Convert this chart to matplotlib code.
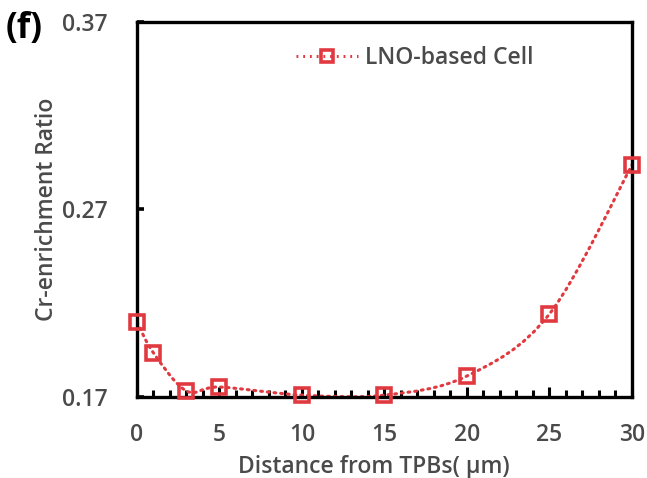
import numpy as np
import matplotlib
matplotlib.use('Agg')
import matplotlib.pyplot as plt
from matplotlib.path import Path
from matplotlib.patches import PathPatch
from matplotlib.lines import Line2D

distance = [0, 1, 3, 5, 10, 15, 20, 25, 30]
cr_ratio = [0.210, 0.1935, 0.1732, 0.1753, 0.171, 0.171, 0.1812, 0.2143, 0.2937]
yticks = [0.17, 0.27, 0.37]
xticks = [0, 5, 10, 15, 20, 25, 30]

RED = '#e03a40'
GREY = '#4a4a4a'
FS = 16.5
plt.rcParams['font.family'] = ['Open Sans', 'DejaVu Sans']
plt.rcParams['font.weight'] = 'semibold'
plt.rcParams['axes.labelweight'] = 'semibold'


def smooth_path(x, y):
    """Catmull-Rom style smoothed curve as cubic Bezier segments."""
    pts = np.column_stack([x, y]).astype(float)
    verts = [pts[0]]
    codes = [Path.MOVETO]
    n = len(pts)
    for i in range(n - 1):
        p0 = pts[max(i - 1, 0)]
        p1 = pts[i]
        p2 = pts[i + 1]
        p3 = pts[min(i + 2, n - 1)]
        c1 = p1 + (p2 - p0) / 6.0
        c2 = p2 - (p3 - p1) / 6.0
        verts += [c1, c2, p2]
        codes += [Path.CURVE4] * 3
    return Path(verts, codes)


fig = plt.figure(figsize=(6.47, 4.78), dpi=100)
ax = fig.add_axes([0.2117, 0.1695, 0.7651, 0.7845])

curve = PathPatch(smooth_path(distance, cr_ratio), fill=False, edgecolor=RED,
                  linewidth=2.2, linestyle=(0, (0.6, 1.6)), capstyle='round',
                  zorder=2)
ax.add_patch(curve)
ax.plot(distance, cr_ratio, linestyle='none', marker='s', markersize=10,
        markerfacecolor='none', markeredgecolor=RED, markeredgewidth=2.6,
        zorder=3, clip_on=False)

ax.set_xlim(0, 30)
ax.set_ylim(0.17, 0.37)
ax.set_xticks(xticks)
ax.set_xticks(np.arange(0, 31, 1), minor=True)
ax.set_yticks(yticks)
ax.set_yticklabels(['%.2f' % v for v in yticks])

for s in ax.spines.values():
    s.set_linewidth(2.4)
ax.tick_params(axis='x', which='major', direction='in', length=7, width=2.2,
               labelsize=FS, labelcolor=GREY, pad=19)
ax.tick_params(axis='x', which='minor', direction='in', length=5, width=2.2)
ax.tick_params(axis='y', direction='in', length=5, width=2.6,
               labelsize=FS, labelcolor=GREY, pad=21)

ax.set_xlabel('Distance from TPBs( µm)', fontsize=FS, color=GREY)
ax.xaxis.set_label_coords(0.479, -0.155)
ax.set_ylabel('Cr-enrichment Ratio', fontsize=FS, color=GREY, labelpad=2)

handle = Line2D([], [], color=RED, linewidth=2.2, linestyle=(0, (0.6, 1.6)),
                marker='s', markersize=9, markerfacecolor='none',
                markeredgecolor=RED, markeredgewidth=2.6)
ax.legend([handle], ['LNO-based Cell'], loc='upper left',
          bbox_to_anchor=(0.28, 0.99), frameon=False, fontsize=FS,
          labelcolor=GREY, handlelength=2.7, handletextpad=0.3)

fig.text(0.008, 0.92, '(f)', fontsize=25, fontweight='bold', color='black')

fig.savefig('out.png', dpi=100)
